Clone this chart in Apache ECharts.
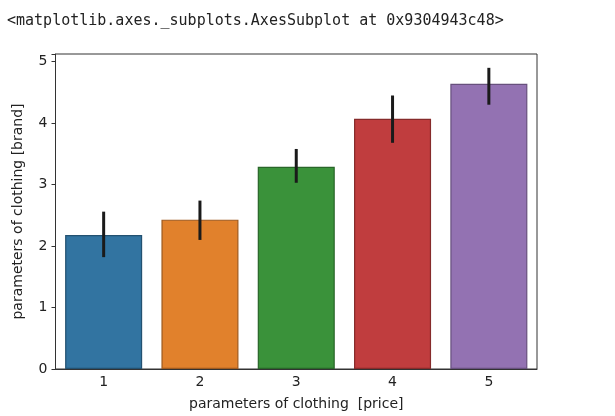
<!DOCTYPE html>
<html>
<head>
<meta charset="utf-8">
<script src="https://cdn.jsdelivr.net/npm/echarts@6/dist/echarts.min.js"></script>
<style>
  html, body { margin: 0; padding: 0; background: #fff; }
  #main { width: 615px; height: 416px; }
</style>
</head>
<body>
<div id="main"></div>
<script>
// data
const categories = ['1', '2', '3', '4', '5'];
const means = [2.18, 2.43, 3.29, 4.07, 4.64];
const errLow = [1.82, 2.10, 3.03, 3.68, 4.30];
const errHigh = [2.56, 2.74, 3.58, 4.45, 4.90];
const yTicks = [0, 1, 2, 3, 4, 5];
const colors = ['#3274a1', '#e1812c', '#3a923a', '#c03d3e', '#9372b2'];

const chart = echarts.init(document.getElementById('main'), null, { renderer: 'canvas' });

const errData = categories.map((c, i) => [i, errLow[i], errHigh[i]]);

chart.setOption({
  animation: false,
  title: {
    text: '<matplotlib.axes._subplots.AxesSubplot at 0x9304943c48>',
    left: 2,
    top: 9,
    textStyle: {
      fontFamily: 'DejaVu Sans Mono',
      fontSize: 15,
      fontWeight: 'normal',
      color: '#222'
    }
  },
  grid: {
    left: 55.5,
    right: 78,
    top: 54,
    bottom: 47,
    show: true,
    borderColor: '#333',
    borderWidth: 1,
    containLabel: false
  },
  xAxis: {
    type: 'category',
    data: categories,
    name: 'parameters of clothing  [price]',
    nameLocation: 'middle',
    nameGap: 28,
    nameTextStyle: { fontFamily: 'DejaVu Sans', fontSize: 14, color: '#222' },
    axisLine: { lineStyle: { color: '#333' } },
    axisTick: { alignWithLabel: true, length: 4, lineStyle: { color: '#333' } },
    axisLabel: { fontFamily: 'DejaVu Sans', fontSize: 14, color: '#222', margin: 6 },
    splitLine: { show: false }
  },
  yAxis: {
    type: 'value',
    min: 0,
    max: 5.125,
    interval: 1,
    name: 'parameters of clothing [brand]',
    nameLocation: 'middle',
    nameGap: 30,
    nameTextStyle: { fontFamily: 'DejaVu Sans', fontSize: 14, color: '#222' },
    axisLine: { show: true, lineStyle: { color: '#333' } },
    axisTick: { show: true, length: 4, lineStyle: { color: '#333' } },
    axisLabel: {
      fontFamily: 'DejaVu Sans', fontSize: 14, color: '#222', margin: 8,
      formatter: v => (yTicks.indexOf(v) >= 0 ? String(v) : '')
    },
    splitLine: { show: false }
  },
  series: [
    {
      type: 'bar',
      barWidth: '80%',
      data: means.map((v, i) => ({
        value: v,
        itemStyle: {
          color: colors[i],
          borderColor: echarts.color.lerp(0.3, [colors[i], '#000000']),
          borderWidth: 1.2
        }
      }))
    },
    {
      type: 'custom',
      data: errData,
      z: 10,
      renderItem: function (params, api) {
        const x = api.value(0);
        const top = api.coord([x, api.value(2)]);
        const bot = api.coord([x, api.value(1)]);
        return {
          type: 'line',
          shape: { x1: top[0], y1: top[1], x2: bot[0], y2: bot[1] },
          style: { stroke: '#1a1a1a', lineWidth: 3 }
        };
      }
    }
  ]
});
</script>
</body>
</html>
